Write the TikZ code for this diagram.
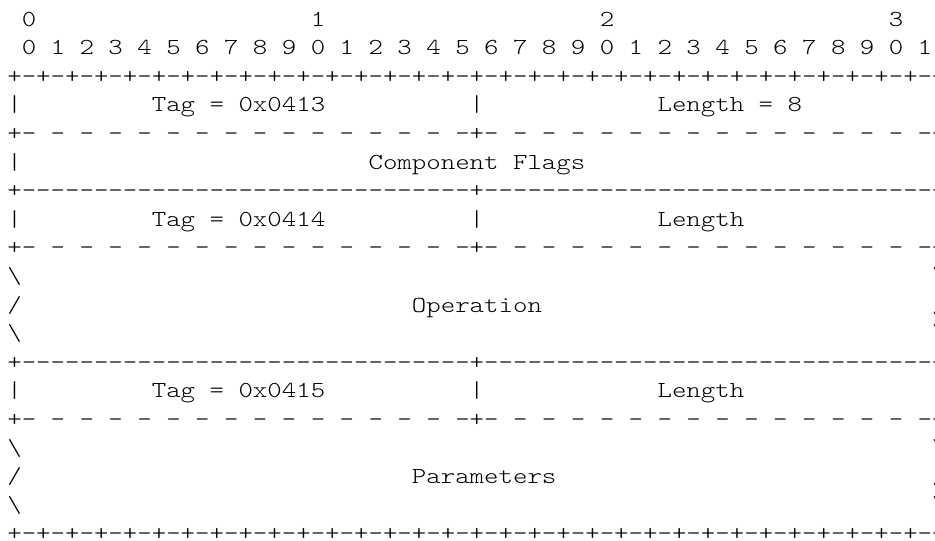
\documentclass[tikz,border=0pt]{standalone}
\usepackage{fontspec}
\setmonofont{lmmonolt10-regular.otf}[FakeStretch=1.202]
\newcommand\asciifont{\ttfamily\fontsize{22.9}{28.6}\selectfont}
\tikzset{
  ascii/.style={anchor=base west, inner sep=0pt, outer sep=0pt, font=\asciifont},
}

\begin{document}
\begin{tikzpicture}[x=14.45pt, y=-28.6pt]
    \useasboundingbox (-7.3pt,26pt) rectangle (927.7pt,-515pt);
    \clip (-7.3pt,26pt) rectangle (927.7pt,-515pt);

    \node[ascii] (tens0) at (1,0) {0};
    \node[ascii] (tens1) at (21,0) {1};
    \node[ascii] (tens2) at (41,0) {2};
    \node[ascii] (tens3) at (61,0) {3};
    \node[ascii] (ones) at (1,1) {0 1 2 3 4 5 6 7 8 9 0 1 2 3 4 5 6 7 8 9 0 1 2 3 4 5 6 7 8 9 0 1};
    \node[ascii] (ruleTop) at (0,2) {+-+-+-+-+-+-+-+-+-+-+-+-+-+-+-+-+-+-+-+-+-+-+-+-+-+-+-+-+-+-+-+-+};

    \node[ascii] (barFlagsL) at (0,3) {|};
    \node[ascii] (tagFlags) at (10,3) {Tag = 0x0413};
    \node[ascii] (barFlagsM) at (32,3) {|};
    \node[ascii] (lenFlags) at (45,3) {Length = 8};
    \node[ascii] (barFlagsR) at (64,3) {|};
    \node[ascii] (splitFlags) at (0,4) {+- - - - - - - - - - - - - - - -+- - - - - - - - - - - - - - - -+};
    \node[ascii] (barCompL) at (0,5) {|};
    \node[ascii] (compFlags) at (25,5) {Component Flags};
    \node[ascii] (barCompR) at (64,5) {|};
    \node[ascii] (ruleOp) at (0,6) {+-------------------------------+-------------------------------+};

    \node[ascii] (barOpL) at (0,7) {|};
    \node[ascii] (tagOp) at (10,7) {Tag = 0x0414};
    \node[ascii] (barOpM) at (32,7) {|};
    \node[ascii] (lenOp) at (45,7) {Length};
    \node[ascii] (barOpR) at (64,7) {|};
    \node[ascii] (splitOp) at (0,8) {+- - - - - - - - - - - - - - - -+- - - - - - - - - - - - - - - -+};
    \node[ascii] (opTopL) at (0,9) {\textbackslash};
    \node[ascii] (opTopR) at (64,9) {\textbackslash};
    \node[ascii] (opMidL) at (0,10) {/};
    \node[ascii] (operation) at (28,10) {Operation};
    \node[ascii] (opMidR) at (64,10) {/};
    \node[ascii] (opBotL) at (0,11) {\textbackslash};
    \node[ascii] (opBotR) at (64,11) {\textbackslash};
    \node[ascii] (ruleParam) at (0,12) {+-------------------------------+-------------------------------+};

    \node[ascii] (barParamL) at (0,13) {|};
    \node[ascii] (tagParam) at (10,13) {Tag = 0x0415};
    \node[ascii] (barParamM) at (32,13) {|};
    \node[ascii] (lenParam) at (45,13) {Length};
    \node[ascii] (barParamR) at (64,13) {|};
    \node[ascii] (splitParam) at (0,14) {+- - - - - - - - - - - - - - - -+- - - - - - - - - - - - - - - -+};
    \node[ascii] (parTopL) at (0,15) {\textbackslash};
    \node[ascii] (parTopR) at (64,15) {\textbackslash};
    \node[ascii] (parMidL) at (0,16) {/};
    \node[ascii] (parameters) at (28,16) {Parameters};
    \node[ascii] (parMidR) at (64,16) {/};
    \node[ascii] (parBotL) at (0,17) {\textbackslash};
    \node[ascii] (parBotR) at (64,17) {\textbackslash};
    \node[ascii] (ruleBottom) at (0,18) {+-+-+-+-+-+-+-+-+-+-+-+-+-+-+-+-+-+-+-+-+-+-+-+-+-+-+-+-+-+-+-+-+};
\end{tikzpicture}
\end{document}
